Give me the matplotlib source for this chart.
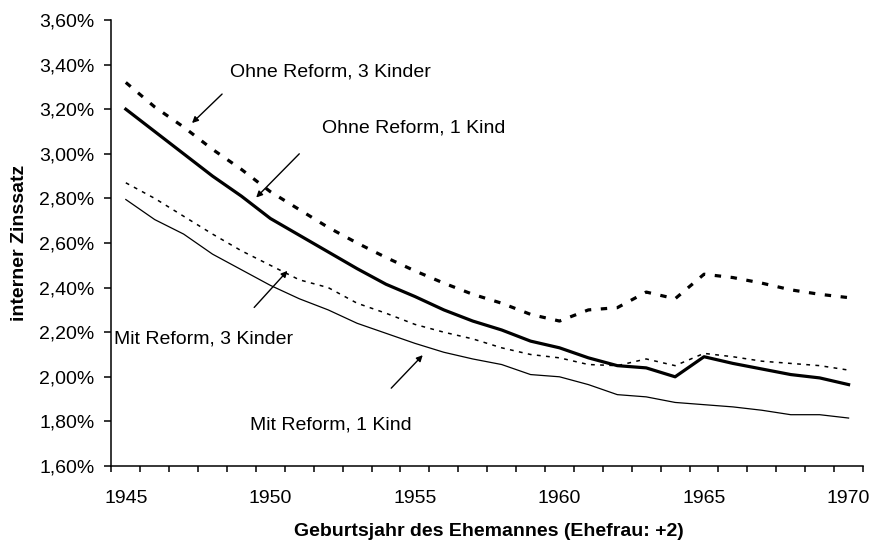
import matplotlib
matplotlib.use("Agg")
import matplotlib.pyplot as plt
from matplotlib.ticker import FixedLocator, FuncFormatter

plt.rcParams['font.family'] = ['Liberation Sans', 'DejaVu Sans']

years = list(range(1945, 1971))

# interner Zinssatz in %
ohne_reform_3_kinder = [3.32, 3.21, 3.12, 3.02, 2.93, 2.83, 2.75, 2.67, 2.60, 2.535,
                        2.475, 2.42, 2.37, 2.33, 2.28, 2.25, 2.30, 2.31, 2.38, 2.35,
                        2.46, 2.445, 2.42, 2.39, 2.37, 2.355]
ohne_reform_1_kind = [3.20, 3.10, 3.00, 2.90, 2.81, 2.71, 2.635, 2.56, 2.485, 2.415,
                      2.36, 2.30, 2.25, 2.21, 2.16, 2.13, 2.085, 2.05, 2.04, 2.00,
                      2.09, 2.06, 2.035, 2.01, 1.995, 1.965]
mit_reform_3_kinder = [2.87, 2.80, 2.72, 2.64, 2.565, 2.50, 2.435, 2.40, 2.33, 2.285,
                       2.235, 2.20, 2.17, 2.13, 2.10, 2.085, 2.055, 2.05, 2.08, 2.05,
                       2.105, 2.09, 2.07, 2.06, 2.05, 2.03]
mit_reform_1_kind = [2.795, 2.705, 2.64, 2.55, 2.48, 2.41, 2.35, 2.30, 2.24, 2.195,
                     2.15, 2.11, 2.08, 2.055, 2.01, 2.00, 1.965, 1.92, 1.91, 1.885,
                     1.875, 1.865, 1.85, 1.83, 1.83, 1.815]

year_labels = [1945, 1950, 1955, 1960, 1965, 1970]
y_ticks = [1.6, 1.8, 2.0, 2.2, 2.4, 2.6, 2.8, 3.0, 3.2, 3.4, 3.6]

# Beschriftungen: Text, Textposition (Jahr, %), Pfeil von, Pfeil nach
annotations = [
    ("Ohne Reform, 3 Kinder", (1948.6, 3.365), (1948.33, 3.268), (1947.29, 3.138)),
    ("Ohne Reform, 1 Kind", (1951.8, 3.115), (1951.0, 3.00), (1949.51, 2.804)),
    ("Mit Reform, 3 Kinder", (1944.6, 2.17), (1949.44, 2.311), (1950.59, 2.475)),
    ("Mit Reform, 1 Kind", (1949.3, 1.785), (1954.18, 1.949), (1955.27, 2.097)),
]

fig = plt.figure(figsize=(8.7, 5.44), dpi=100)
ax = fig.add_axes([0.128, 0.1434, 0.864, 0.8198])

ax.plot(years, ohne_reform_3_kinder, color='black', lw=2.3,
        linestyle=(0, (2.0, 3.0)), dash_capstyle='butt')
ax.plot(years, ohne_reform_1_kind, color='black', lw=2.3, solid_joinstyle='round')
ax.plot(years, mit_reform_3_kinder, color='black', lw=1.1,
        linestyle=(0, (2.5, 3.5)), dash_capstyle='butt')
ax.plot(years, mit_reform_1_kind, color='black', lw=0.9)

for text, pos, start, end in annotations:
    ax.text(pos[0], pos[1], text, fontsize=14, ha='left', va='center')
    ax.annotate('', xy=end, xytext=start,
                arrowprops=dict(arrowstyle='-|>', color='black', lw=1.0,
                                mutation_scale=9, shrinkA=0, shrinkB=0))

ax.set_xlim(1944.5, 1970.5)
ax.set_ylim(1.6, 3.6)

ax.xaxis.set_major_locator(FixedLocator([y - 0.5 for y in years] + [1970.5]))
ax.xaxis.set_major_formatter(FuncFormatter(lambda v, p: ''))
ax.xaxis.set_minor_locator(FixedLocator(year_labels))
ax.xaxis.set_minor_formatter(FuncFormatter(lambda v, p: f"{int(round(v))}"))
ax.tick_params(axis='x', which='major', direction='out', length=4.5, width=1.1)
ax.tick_params(axis='x', which='minor', length=0, labelsize=14, pad=17)

ax.set_yticks(y_ticks)
ax.yaxis.set_major_formatter(FuncFormatter(lambda v, p: f"{v:.2f}%".replace('.', ',')))
ax.tick_params(axis='y', direction='out', length=5, width=1.1, labelsize=14, pad=7)

for side in ['top', 'right']:
    ax.spines[side].set_visible(False)
for side in ['left', 'bottom']:
    ax.spines[side].set_linewidth(1.1)

fig.text(0.562, 1 - 532 / 544, "Geburtsjahr des Ehemannes (Ehefrau: +2)",
         fontsize=14, fontweight='bold', ha='center', va='center')
fig.text(20 / 870, 1 - 243 / 544, "interner Zinssatz", fontsize=14,
         fontweight='bold', rotation=90, ha='center', va='center')

plt.savefig("out.png", dpi=100)
